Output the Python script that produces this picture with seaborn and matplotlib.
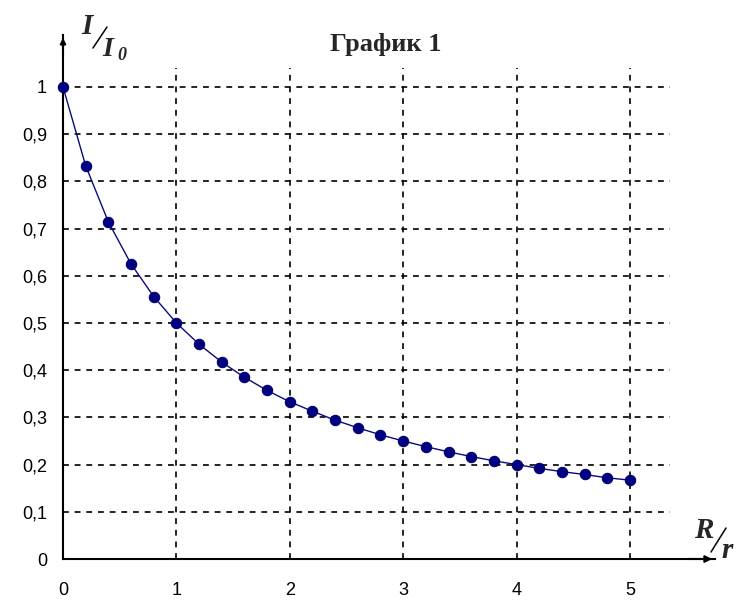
import matplotlib
matplotlib.use("Agg")
import matplotlib.pyplot as plt
import seaborn as sns
import pandas as pd
from matplotlib.lines import Line2D

r_ratio = [0.0, 0.2, 0.4, 0.6, 0.8, 1.0, 1.2, 1.4, 1.6, 1.8, 2.0, 2.2, 2.4,
           2.6, 2.8, 3.0, 3.2, 3.4, 3.6, 3.8, 4.0, 4.2, 4.4, 4.6, 4.8, 5.0]
i_ratio = [1.0, 0.833, 0.714, 0.625, 0.556, 0.5, 0.455, 0.417, 0.385, 0.357,
           0.333, 0.313, 0.294, 0.278, 0.263, 0.25, 0.238, 0.227, 0.217,
           0.208, 0.2, 0.192, 0.185, 0.179, 0.172, 0.167]

x_ticks = [0, 1, 2, 3, 4, 5]
x_labels = ["0", "1", "2", "3", "4", "5"]
y_ticks = [0, 0.1, 0.2, 0.3, 0.4, 0.5, 0.6, 0.7, 0.8, 0.9, 1.0]
y_labels = ["0", "0,1", "0,2", "0,3", "0,4", "0,5", "0,6", "0,7", "0,8", "0,9", "1"]

df = pd.DataFrame({"R/r": r_ratio, "I/I0": i_ratio})

sns.set_style("white")
plt.rcParams["font.family"] = ["Liberation Sans", "DejaVu Sans"]

W, H = 748, 616
fig = plt.figure(figsize=(W / 100, H / 100), dpi=100)
ax = fig.add_axes([63 / W, 57 / H, 652 / W, 524 / H])

xmax, ymax = 5.75, 1.11
ax.set_xlim(0, xmax)
ax.set_ylim(0, ymax)

# dashed grid, stopping short of the axis arrows
ax.hlines(y_ticks[1:], 0, 5.35, colors="black", linestyles=(0, (3.5, 3.5)), linewidth=1.2)
ax.vlines(x_ticks[1:], 0, 1.04, colors="black", linestyles=(0, (3.5, 3.5)), linewidth=1.2)

sns.lineplot(data=df, x="R/r", y="I/I0", ax=ax, color="#0a0a80", linewidth=1.0,
             marker="o", markersize=7.5, markeredgecolor="#000070",
             markerfacecolor="#000080", clip_on=False, zorder=5)

ax.set_xticks(x_ticks)
ax.set_xticklabels(x_labels)
ax.set_yticks(y_ticks)
ax.set_yticklabels(y_labels)
ax.tick_params(axis="both", direction="inout", length=7, width=1.2, colors="black",
               labelsize=13)
ax.tick_params(axis="x", pad=13)
ax.tick_params(axis="y", pad=8)
ax.set_xlabel("")
ax.set_ylabel("")

for side in ["top", "right"]:
    ax.spines[side].set_visible(False)
for side in ["left", "bottom"]:
    ax.spines[side].set_linewidth(1.5)
    ax.spines[side].set_color("black")

# axis arrows
ax.annotate("", xy=(xmax, 0), xytext=(xmax - 0.25, 0), xycoords="data",
            arrowprops=dict(arrowstyle="-|>", color="black", lw=1.5,
                            mutation_scale=10), annotation_clip=False)
ax.annotate("", xy=(0, ymax), xytext=(0, ymax - 0.05), xycoords="data",
            arrowprops=dict(arrowstyle="-|>", color="black", lw=1.5,
                            mutation_scale=8), annotation_clip=False)


def px(x, y):
    return x / W, 1 - y / H


def slash(x0, y0, x1, y1):
    (fx0, fy0), (fx1, fy1) = px(x0, y0), px(x1, y1)
    fig.add_artist(Line2D([fx0, fx1], [fy0, fy1], color="black", linewidth=1.1,
                          transform=fig.transFigure))


serif = ["Liberation Serif", "DejaVu Serif"]
fig.text(*px(386, 44), "График 1", ha="center", va="center",
         fontsize=19, fontweight="bold", family=serif)

# y label: I / I0 as a slanted fraction
lab = dict(family=serif, fontweight="bold", style="italic")
fig.text(*px(81, 34), "I", ha="left", va="baseline", fontsize=21, **lab)
slash(93, 48, 107, 27)
fig.text(*px(102, 56), "I", ha="left", va="baseline", fontsize=20, **lab)
fig.text(*px(117, 60), "0", ha="left", va="baseline", fontsize=13, **lab)

# x label: R / r
fig.text(*px(694, 538), "R", ha="left", va="baseline", fontsize=21, **lab)
slash(711, 552, 726, 528)
fig.text(*px(721, 558), "r", ha="left", va="baseline", fontsize=21, **lab)

fig.savefig("out.png", dpi=100)
